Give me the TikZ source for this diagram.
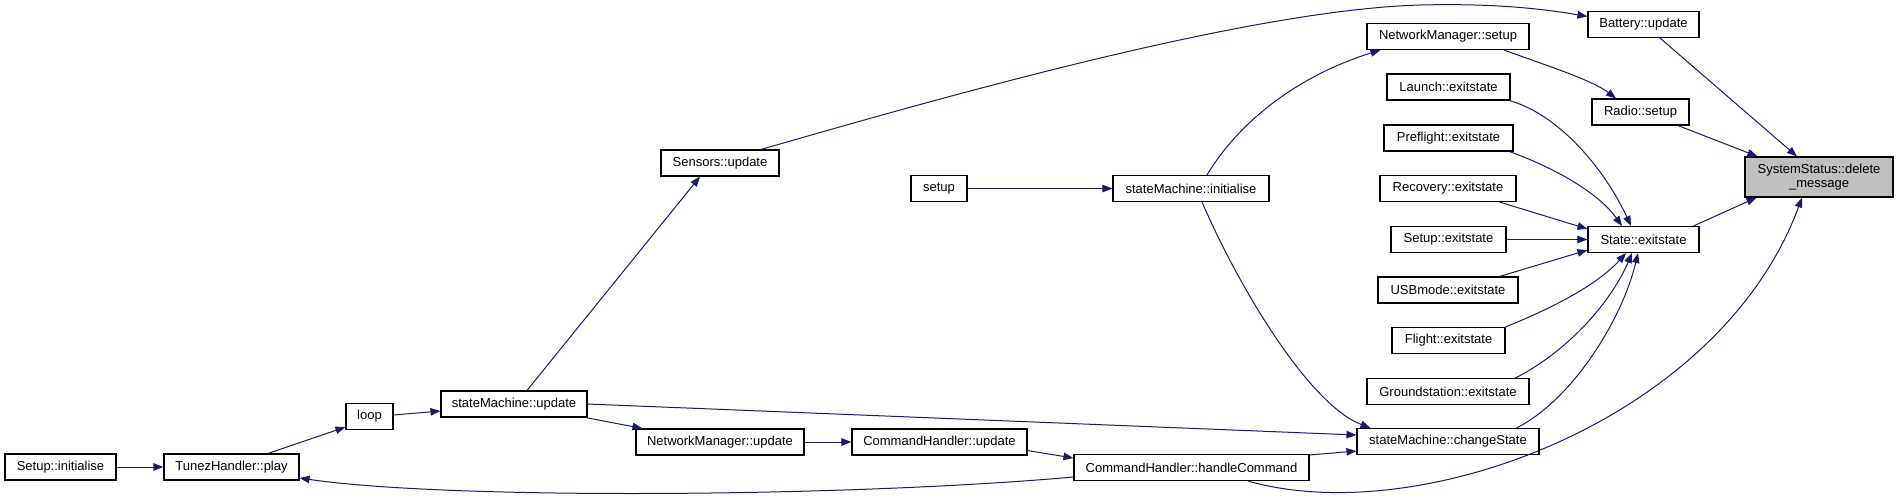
\documentclass[tikz,border=0pt]{standalone}
\usepackage{fontspec}
\setmainfont{Liberation Sans}
\usetikzlibrary{arrows.meta}
\definecolor{edgeblue}{HTML}{191970}
\definecolor{rootgray}{HTML}{BFBFBF}
\begin{document}
\begin{tikzpicture}[x=1pt,y=-1pt,
  fn/.style={draw=black, line width=1.1pt, fill=white, inner sep=0pt,
    font=\fontsize{13}{14}\selectfont, text=black, minimum height=26},
  root/.style={fn, fill=rootgray, align=center, minimum height=40},
  edge/.style={draw=edgeblue, line width=1pt, -{Triangle[length=10pt,width=7.5pt]}}]
\path[use as bounding box, fill=white] (0,0) rectangle (1897,499);

% nodes
\node[fn, minimum width=111] (sinit) at (60.5,467) {Setup::initialise};
\node[fn, minimum width=135] (tunez) at (231.5,467) {TunezHandler::play};
\node[fn, minimum width=47] (loop) at (369.5,416.5) {loop};
\node[fn, minimum width=146] (smu) at (514,404) {stateMachine::update};
\node[fn, minimum width=118] (sens) at (720,163) {Sensors::update};
\node[fn, minimum width=168] (nmu) at (720,442) {NetworkManager::update};
\node[fn, minimum width=175] (chu) at (939.5,442) {CommandHandler::update};
\node[fn, minimum width=56] (setup) at (939,188.5) {setup};
\node[fn, minimum width=156] (init) at (1191,188.5) {stateMachine::initialise};
\node[fn, minimum width=235] (hc) at (1191.5,467.5) {CommandHandler::handleCommand};
\node[fn, minimum width=182] (cs) at (1448,441.5) {stateMachine::changeState};
\node[fn, minimum width=162] (nms) at (1448,36.5) {NetworkManager::setup};
\node[fn, minimum width=123] (launch) at (1448.5,87) {Launch::exitstate};
\node[fn, minimum width=129] (pre) at (1448.5,138) {Preflight::exitstate};
\node[fn, minimum width=136] (rec) at (1448,188.5) {Recovery::exitstate};
\node[fn, minimum width=115] (setx) at (1448.5,239.5) {Setup::exitstate};
\node[fn, minimum width=140] (usb) at (1448,290) {USBmode::exitstate};
\node[fn, minimum width=113] (flight) at (1448.5,340.5) {Flight::exitstate};
\node[fn, minimum width=162] (ground) at (1448,391.5) {Groundstation::exitstate};
\node[fn, minimum width=111] (bat) at (1643.5,24.5) {Battery::update};
\node[fn, minimum width=97] (radio) at (1640.5,112) {Radio::setup};
\node[fn, minimum width=111] (state) at (1643.5,239.5) {State::exitstate};
\node[root, minimum width=148] (sys) at (1819,177) {SystemStatus::delete\\\_message};

% edges
\draw[edge] ([xshift=16.5]bat.south) -- ([xshift=-22]sys.north);
\draw[edge] ([xshift=37.5]radio.south) -- ([xshift=13]sys.north west);
\draw[edge] ([xshift=-6]state.north east) -- ([xshift=12]sys.south west);
\draw[edge] ([xshift=56.5]hc.south) .. controls (1420,530) and (1720,420) .. ([xshift=-17]sys.south);
\draw[edge] ([xshift=56]nms.south) .. controls (1545,65) and (1592,80) .. ([xshift=-24.5]radio.north);
\draw[edge] ([xshift=-1]launch.south east) .. controls (1560,115) and (1605,170) .. ([xshift=-12.5]state.north);
\draw[edge] ([xshift=-4]pre.south east) .. controls (1560,170) and (1600,195) .. ([xshift=-21.5]state.north);
\draw[edge] ([xshift=-17]rec.south east) -- ([yshift=-3]state.north west);
\draw[edge] (setx.east) -- (state.west);
\draw[edge] ([xshift=-19]usb.north east) -- ([yshift=3]state.south west);
\draw[edge] (flight.north east) .. controls (1560,305) and (1600,282) .. ([xshift=-17.5]state.south);
\draw[edge] ([xshift=-14]ground.north east) .. controls (1570,350) and (1612,300) .. ([xshift=-11.5]state.south);
\draw[edge] ([xshift=-23]cs.north east) .. controls (1572,400) and (1622,320) .. ([xshift=-5.5]state.south);
\draw[edge] ([xshift=11]init.south) .. controls (1240,290) and (1310,405) .. ([xshift=14]cs.north west);
\draw[edge] (smu.east) -- ([yshift=6.5]cs.west);
\draw[edge] ([yshift=-1]hc.north east) -- ([yshift=4]cs.south west);
\draw[edge] (setup.east) -- (init.west);
\draw[edge] ([xshift=16]init.north) .. controls (1240,120) and (1300,75) .. ([xshift=14]nms.south west);
\draw[edge] ([xshift=13]smu.north) -- ([xshift=-20]sens.south);
\draw[edge] ([xshift=-2]smu.south east) -- ([xshift=7]nmu.north west);
\draw[edge] (nmu.east) -- (chu.west);
\draw[edge] ([yshift=5]chu.south east) -- ([yshift=9.5]hc.west);
\draw[edge] ([yshift=-9.5]hc.west) .. controls (850,497) and (450,500) .. ([yshift=-11]tunez.east);
\draw[edge] ([yshift=1.5]loop.east) -- ([yshift=-7]smu.west);
\draw[edge] ([xshift=36.5]tunez.north) -- ([yshift=3]loop.south west);
\draw[edge] (sinit.east) -- (tunez.west);
\draw[edge] ([xshift=41]sens.north) .. controls (950,95) and (1250,10) .. (1420,5) .. controls (1500,3) and (1550,10) .. ([yshift=8]bat.west);
\end{tikzpicture}
\end{document}
